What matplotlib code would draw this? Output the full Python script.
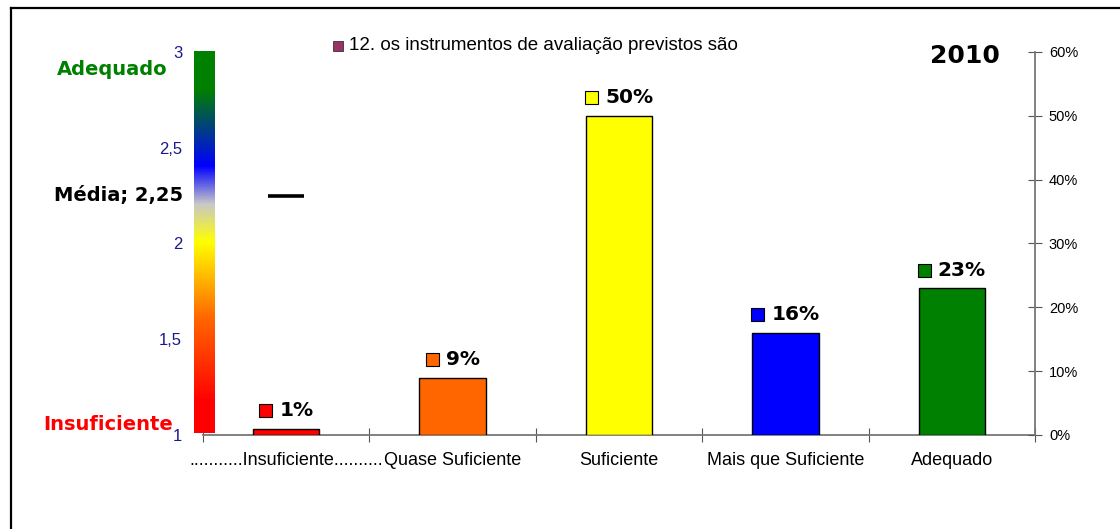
import matplotlib
matplotlib.use("Agg")
import matplotlib.pyplot as plt
import numpy as np
from matplotlib.colors import LinearSegmentedColormap
from matplotlib.offsetbox import AnnotationBbox, HPacker, TextArea, DrawingArea
from matplotlib.patches import Rectangle

# dados
categorias = ["...........Insuficiente..........", "Quase Suficiente", "Suficiente",
              "Mais que Suficiente", "Adequado"]
valores = [0.01, 0.09, 0.50, 0.16, 0.23]
rotulos = ["1%", "9%", "50%", "16%", "23%"]
cores = ["#FF0000", "#FF6600", "#FFFF00", "#0000FF", "#008000"]
media = 2.25
escala_ticks = [1, 1.5, 2, 2.5, 3]
escala_labels = ["1", "1,5", "2", "2,5", "3"]
pct_ticks = [0, 0.1, 0.2, 0.3, 0.4, 0.5, 0.6]
pct_labels = ["0%", "10%", "20%", "30%", "40%", "50%", "60%"]
legenda = "12. os instrumentos de avaliação previstos são"
ano = "2010"

W, H = 1120, 529
fig = plt.figure(figsize=(W / 100, H / 100), dpi=100)
fig.patch.set_facecolor("white")

def fx(px):
    return px / W

def fy(py):
    return 1 - py / H

# moldura (topo e esquerda)
fig.add_artist(plt.Line2D([fx(11), 1], [fy(8), fy(8)], color="black", lw=1.6))
fig.add_artist(plt.Line2D([fx(11), fx(11)], [fy(8), 0], color="black", lw=1.6))

# eixo principal: escala 1-3 à esquerda
ax = fig.add_axes([fx(203), 1 - 435 / H, fx(1035 - 203), (435 - 52) / H])
ax.set_xlim(0, 5)
ax.set_ylim(1, 3)
ax.set_yticks(escala_ticks)
ax.set_yticklabels(escala_labels, color="#1A1A8C", fontsize=12, family="Liberation Sans")
ax.tick_params(axis="y", length=0, pad=15)
ax.set_xticks(range(6))
ax.set_xticklabels([])
ax.set_xticks([i + 0.5 for i in range(5)], minor=True)
ax.set_xticklabels(categorias, minor=True, fontsize=13, family="Liberation Sans")
ax.tick_params(axis="x", which="major", direction="inout", length=10, color="#555555")
ax.tick_params(axis="x", which="minor", length=0, pad=12)
for s in ["top", "left", "right"]:
    ax.spines[s].set_visible(False)
ax.spines["bottom"].set_color("#777777")
ax.spines["bottom"].set_linewidth(1.3)

# média
ax.plot([0.5], [media], marker="_", markersize=26, mew=2.6, color="black", zorder=5)

# eixo das percentagens à direita
ax2 = ax.twinx()
ax2.set_ylim(0, 0.6)
ax2.set_yticks(pct_ticks)
ax2.set_yticklabels(pct_labels, fontsize=10.5, family="Liberation Sans")
ax2.tick_params(axis="y", direction="inout", length=10, color="#555555", pad=5)
for s in ["top", "left", "bottom"]:
    ax2.spines[s].set_visible(False)
ax2.spines["right"].set_color("#777777")
ax2.spines["right"].set_linewidth(1.3)

xs = np.arange(5) + 0.5
ax2.bar(xs, valores, width=0.4, color=cores, edgecolor="black", linewidth=1, zorder=3)

for x, v, r, c in zip(xs, valores, rotulos, cores):
    da = DrawingArea(9.5, 9.5, 0, 0)
    da.add_artist(Rectangle((0, 0), 9.5, 9.5, facecolor=c, edgecolor="black", lw=0.8))
    ta = TextArea(r, textprops=dict(fontsize=14.5, fontweight="bold", color="black"))
    pack = HPacker(children=[da, ta], align="center", pad=0, sep=5)
    ab = AnnotationBbox(pack, (x, v), xybox=(0, 13), xycoords="data",
                        boxcoords="offset points", frameon=False,
                        box_alignment=(0.5, 0.5))
    ax2.add_artist(ab)

# barra de gradiente
cmap = LinearSegmentedColormap.from_list("escala", [
    (0.0, "#FF0000"), (0.08, "#FF0000"), (0.3, "#FF6600"), (0.5, "#FFFF00"),
    (0.6, "#C8C8C8"), (0.7, "#0000FF"), (0.9, "#008000"), (1.0, "#008000")])
axg = fig.add_axes([fx(194), 1 - 433 / H, fx(21), (433 - 51) / H])
axg.imshow(np.linspace(0, 1, 256).reshape(-1, 1), aspect="auto", cmap=cmap,
           origin="lower", extent=[0, 1, 0, 1])
axg.axis("off")

# rótulos à esquerda
fig.text(fx(168), fy(70), "Adequado", color="#008000", fontsize=14,
         fontweight="bold", ha="right", va="center")
fig.text(fx(183), fy(196), "Média; 2,25", color="black", fontsize=14,
         fontweight="bold", ha="right", va="center")
fig.text(fx(173), fy(425), "Insuficiente", color="#FF0000", fontsize=14,
         fontweight="bold", ha="right", va="center")

# legenda e título
fig.add_artist(Rectangle((fx(333), fy(51)), fx(10), 10 / H, facecolor="#993366",
                         edgecolor="#333333", lw=0.6, transform=fig.transFigure))
fig.text(fx(349), fy(46), legenda, fontsize=13.5, family="Liberation Sans",
         ha="left", va="center")
fig.text(fx(965), fy(56), ano, fontsize=18, fontweight="bold", ha="center", va="center")

plt.savefig("out.png", dpi=100)
